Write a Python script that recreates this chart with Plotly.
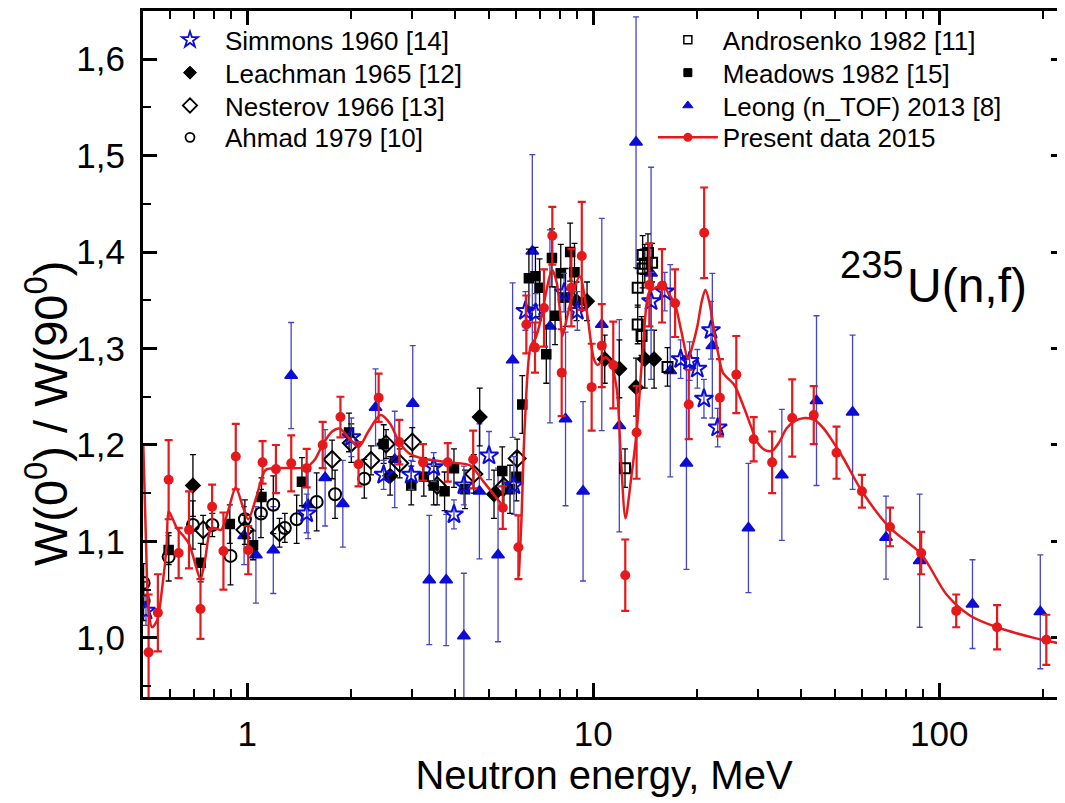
import numpy as np
import plotly.graph_objects as go

# ---------------- data ----------------
simmons_E = [0.51, 1.486, 2.0, 2.48, 2.98, 3.46, 3.96, 4.23, 5.0, 5.9, 6.37, 6.82, 8.24, 9.0,
             14.7, 16.1, 17.9, 19.0, 20.0, 20.9, 21.9, 22.9]
simmons_W = [1.028, 1.129, 1.208, 1.169, 1.169, 1.177, 1.128, 1.158, 1.189, 1.158, 1.339, 1.337,
             1.358, 1.339, 1.349, 1.359, 1.289, 1.287, 1.279, 1.248, 1.319, 1.218]
simmons_err = [0.015, 0.02, 0.02, 0.015, 0.015, 0.015, 0.015, 0.02, 0.025, 0.03, 0.02, 0.02,
               0.02, 0.02, 0.03, 0.02, 0.02, 0.02, 0.02, 0.02, 0.03, 0.02]

leachman_E = [0.697, 2.59, 4.70, 5.17, 8.95, 9.6, 10.8, 11.9, 13.3, 14.1, 15.0]
leachman_W = [1.158, 1.168, 1.229, 1.149, 1.349, 1.349, 1.289, 1.279, 1.260, 1.289, 1.289]
leachman_err = [0.032, 0.02, 0.03, 0.025, 0.02, 0.02, 0.025, 0.03, 0.03, 0.03, 0.03]

nesterov_E = [0.746, 0.985, 1.24, 1.76, 2.0, 2.28, 2.52, 2.76, 3.0, 3.54, 4.52, 5.52, 6.03]
nesterov_W = [1.112, 1.112, 1.109, 1.185, 1.202, 1.184, 1.201, 1.181, 1.203, 1.158, 1.170, 1.157, 1.186]
nesterov_err = [0.015, 0.015, 0.015, 0.02, 0.02, 0.015, 0.015, 0.015, 0.015, 0.02, 0.02, 0.02, 0.02]

ahmad_E = [0.502, 0.502, 0.593, 0.697, 0.793, 0.895, 0.985, 1.096, 1.19, 1.285, 1.39, 1.588, 1.795, 2.18]
ahmad_W = [1.057, 1.038, 1.084, 1.117, 1.117, 1.085, 1.123, 1.129, 1.138, 1.114, 1.123, 1.141, 1.149, 1.165]
ahmad_err = [0.02, 0.02, 0.025, 0.025, 0.012, 0.03, 0.02, 0.025, 0.03, 0.015, 0.025, 0.03, 0.025, 0.02]

andros_E = [12.36, 13.45, 13.45, 13.8, 13.9, 13.9, 14.1, 14.4, 14.8, 16.4]
andros_W = [1.176, 1.363, 1.325, 1.313, 1.397, 1.383, 1.388, 1.399, 1.389, 1.281]
andros_err = [0.02, 0.02, 0.02, 0.02, 0.02, 0.02, 0.02, 0.02, 0.02, 0.02]

meadows_E = [0.593, 0.734, 0.891, 1.04, 1.10, 1.44, 1.97, 2.48, 2.98, 3.24, 3.46, 3.72, 3.96, 4.26,
             5.46, 5.75, 6.0, 6.24, 6.52, 6.81, 7.0, 7.32, 7.6, 7.76, 8.06, 8.32, 8.58, 8.83]
meadows_W = [1.091, 1.078, 1.118, 1.096, 1.146, 1.162, 1.213, 1.201, 1.158, 1.167, 1.158, 1.152,
             1.176, 1.154, 1.173, 1.154, 1.167, 1.242, 1.373, 1.375, 1.363, 1.294, 1.394, 1.334,
             1.378, 1.353, 1.400, 1.379]
meadows_err = [0.015, 0.02, 0.02, 0.015, 0.02, 0.025, 0.02, 0.02, 0.02, 0.02, 0.02, 0.02, 0.02,
               0.02, 0.025, 0.025, 0.025, 0.03, 0.03, 0.03, 0.03, 0.03, 0.03, 0.03, 0.03, 0.03,
               0.03, 0.03]

leong_E = [0.98, 1.06, 1.19, 1.34, 1.50, 1.68, 1.89, 2.35, 2.67, 3.01, 3.36, 3.76, 4.23, 4.69, 5.31,
           5.85, 6.67, 7.50, 8.32, 9.35, 10.59, 11.9, 13.3, 14.7, 16.7, 18.6, 22.1, 28.1, 35.1,
           44.2, 56.2, 70.2, 87.8, 124.8, 196]
leong_W = [1.106, 1.086, 1.091, 1.272, 1.138, 1.166, 1.139, 1.239, 1.185, 1.243, 1.060, 1.060,
           1.002, 1.152, 1.086, 1.288, 1.401, 1.323, 1.227, 1.152, 1.325, 1.220, 1.514, 1.378,
           1.277, 1.181, 1.303, 1.114, 1.169, 1.246, 1.234, 1.104, 1.080, 1.035, 1.027]
leong_err = [0.03, 0.05, 0.045, 0.055, 0.035, 0.05, 0.045, 0.04, 0.05, 0.06, 0.067, 0.068, 0.065,
             0.07, 0.09, 0.08, 0.1, 0.1, 0.09, 0.093, 0.11, 0.11, 0.13, 0.11, 0.11, 0.11, 0.075,
             0.067, 0.068, 0.088, 0.08, 0.043, 0.069, 0.046, 0.059]

present_E = [0.519, 0.552, 0.593, 0.634, 0.679, 0.733, 0.792, 0.854, 0.927, 1.007, 1.108, 1.211,
             1.341, 1.486, 1.653, 1.860, 2.098, 2.399, 2.752, 3.223, 3.80, 4.50, 5.48, 6.08, 6.41,
             6.79, 7.21, 7.62, 8.11, 8.65, 9.27, 9.90, 10.59, 11.43, 12.38, 13.35, 14.53, 15.81,
             17.25, 18.89, 20.93, 23.24, 25.92, 29.1, 32.9, 37.6, 43.4, 50.5, 59.8, 72.1, 88.7,
             112, 147, 204]
present_W = [0.985, 1.026, 1.164, 1.088, 1.112, 1.030, 1.136, 1.090, 1.188, 1.091, 1.182, 1.175,
             1.181, 1.176, 1.200, 1.229, 1.180, 1.249, 1.203, 1.182, 1.182, 1.185, 1.135, 1.094,
             1.325, 1.301, 1.342, 1.417, 1.275, 1.363, 1.396, 1.260, 1.303, 1.283, 1.065, 1.213,
             1.366, 1.365, 1.347, 1.242, 1.420, 1.249, 1.273, 1.206, 1.182, 1.228, 1.231, 1.192,
             1.152, 1.115, 1.088, 1.028, 1.011, 0.998]
present_err = [0.06, 0.04, 0.041, 0.026, 0.04, 0.031, 0.023, 0.04, 0.034, 0.025, 0.022, 0.025,
               0.029, 0.02, 0.024, 0.021, 0.023, 0.025, 0.023, 0.019, 0.02, 0.03, 0.022, 0.033,
               0.03, 0.026, 0.04, 0.03, 0.045, 0.04, 0.056, 0.045, 0.043, 0.045, 0.037, 0.048,
               0.043, 0.038, 0.035, 0.036, 0.047, 0.04, 0.04, 0.023, 0.032, 0.04, 0.03, 0.027,
               0.017, 0.02, 0.022, 0.017, 0.023, 0.026]

# fitted curve (two segments separated by None)
fit_E = [0.501, 0.51, 0.519, 0.531, 0.549, 0.569, 0.585, 0.593, 0.61, 0.628, 0.65, 0.68, 0.71,
         0.733, 0.755, 0.78, 0.80, 0.84, 0.88, 0.927, 0.97, 1.007, 1.065, 1.13, 1.21, 1.48, 1.57,
         1.65, 1.76, 1.85, 1.97, 2.10, 2.24, 2.43, 2.59, 2.75, 2.95, 3.22, 3.82, 4.40, 4.82, 5.5,
         None,
         6.1, 6.2, 6.35, 6.6, 6.8, 7.1, 7.3, 7.6, 7.85, 8.0, 8.15, 8.4, 8.7, 9.15, 9.6, 10.05,
         10.3, 10.85, 11.2, 11.7, 12.0, 12.4, 12.85, 13.35, 13.9, 14.5, 15.1, 15.9, 16.6, 17.3,
         18.0, 18.8, 19.3, 20.0, 20.6, 21.1, 21.7, 22.4, 23.0, 23.7, 25.6, 27.4, 28.6, 29.8, 31.3,
         32.9, 34.5, 36.2, 38.3, 40.9, 43.6, 46.4, 49.4, 52.9, 59.8, 72.1, 88.7, 105, 123, 147,
         188, 232]
fit_W = [1.20, 1.10, 1.028, 1.011, 1.018, 1.054, 1.095, 1.131, 1.123, 1.113, 1.107, 1.097, 1.075,
         1.061, 1.08, 1.110, 1.114, 1.112, 1.131, 1.156, 1.137, 1.123, 1.147, 1.174, 1.176, 1.177,
         1.185, 1.200, 1.214, 1.217, 1.207, 1.198, 1.214, 1.231, 1.222, 1.203, 1.191, 1.186, 1.182,
         1.179, 1.162, 1.136,
         None,
         1.064, 1.12, 1.224, 1.303, 1.31, 1.334, 1.357, 1.382, 1.368, 1.343, 1.313, 1.332, 1.355,
         1.375, 1.337, 1.289, 1.283, 1.291, 1.286, 1.258, 1.193, 1.124, 1.163, 1.213, 1.296, 1.358,
         1.363, 1.365, 1.356, 1.344, 1.317, 1.289, 1.301, 1.323, 1.349, 1.361, 1.347, 1.316, 1.294,
         1.275, 1.262, 1.237, 1.219, 1.203, 1.195, 1.194, 1.203, 1.217, 1.225, 1.228, 1.226, 1.217,
         1.203, 1.186, 1.152, 1.114, 1.087, 1.045, 1.023, 1.011, 1.000, 0.993]

y_ticks = [1.0, 1.1, 1.2, 1.3, 1.4, 1.5, 1.6]
y_ticktext = ["1,0", "1,1", "1,2", "1,3", "1,4", "1,5", "1,6"]
x_ticks = [1, 10, 100]
x_ticktext = ["1", "10", "100"]

RED = "#e5191c"
BLUE = "#0c0cd8"
BLUE_ERR = "#4545c8"
FONT = "Liberation Sans, Arial, sans-serif"

fig = go.Figure()


def add_series(E, W, err, symbol, color, size, ecolor, ethick, ewidth, line_width=1.5):
    fig.add_trace(go.Scatter(
        x=E, y=W, mode="markers", showlegend=False,
        marker=dict(symbol=symbol, color=color, size=size,
                    line=dict(color=color, width=line_width)),
        error_y=dict(type="data", array=err, color=ecolor, thickness=ethick, width=ewidth),
    ))


add_series(leong_E, leong_W, leong_err, "triangle-up", BLUE, 11, BLUE_ERR, 1.3, 3)
add_series(ahmad_E, ahmad_W, ahmad_err, "circle-open", "black", 12, "black", 1.3, 3, 2)
add_series(meadows_E, meadows_W, meadows_err, "square", "black", 9, "black", 1.3, 3)
add_series(andros_E, andros_W, andros_err, "square-open", "black", 10, "black", 1.3, 3, 2)
add_series(nesterov_E, nesterov_W, nesterov_err, "diamond-open", "black", 13, "black", 1.3, 3, 2)
add_series(leachman_E, leachman_W, leachman_err, "diamond", "black", 11, "black", 1.3, 3)
add_series(simmons_E, simmons_W, simmons_err, "star-open", BLUE, 14, BLUE_ERR, 1.3, 3, 2)

# Present data
fig.add_trace(go.Scatter(
    x=fit_E, y=fit_W, mode="lines", showlegend=False, connectgaps=False,
    line=dict(color=RED, width=2.5, shape="spline", smoothing=0.8),
))
fig.add_trace(go.Scatter(
    x=present_E, y=present_W, mode="markers", showlegend=False,
    marker=dict(symbol="circle", color=RED, size=10),
    error_y=dict(type="data", array=present_err, color=RED, thickness=2.2, width=4),
))

# legend entries: (name, symbol, colour, size, outline width, column, row)
legend_items = [
    ("Simmons 1960 [14]", "star-open", BLUE, 12, 1.8, 0, 0),
    ("Leachman 1965 [12]", "diamond", "black", 10, 1, 0, 1),
    ("Nesterov 1966 [13]", "diamond-open", "black", 11, 1.8, 0, 2),
    ("Ahmad 1979 [10]", "circle-open", "black", 9, 1.8, 0, 3),
    ("Androsenko 1982 [11]", "square-open", "black", 8, 1.5, 1, 0),
    ("Meadows 1982 [15]", "square", "black", 8, 1, 1, 1),
    ("Leong (n_TOF) 2013 [8]", "triangle-up", BLUE, 9, 1, 1, 2),
]

PLOT_BOTTOM = 697.0   # page px
PLOT_H = 689.0
row_centers = [37, 70, 103, 135]
col_x = [0.013, 0.553]

legend_layout = {}
idx = 0
for nm, sym, col, sz, lw, c, r in legend_items:
    idx += 1
    key = "legend" if idx == 1 else f"legend{idx}"
    fig.add_trace(go.Scatter(x=[None], y=[None], mode="markers", name=nm, legend=key,
                             marker=dict(symbol=sym, color=col, size=sz,
                                         line=dict(color=col, width=lw))))
    legend_layout[key] = dict(x=col_x[c], y=(PLOT_BOTTOM - row_centers[r]) / PLOT_H,
                              xanchor="left", yanchor="middle", bgcolor="rgba(0,0,0,0)",
                              font=dict(family=FONT, size=26), itemwidth=60)
idx += 1
key = f"legend{idx}"
fig.add_trace(go.Scatter(x=[None], y=[None], mode="lines+markers", name="Present data 2015",
                         legend=key,
                         marker=dict(symbol="circle", color=RED, size=9),
                         line=dict(color=RED, width=2.5)))
legend_layout[key] = dict(x=col_x[1], y=(PLOT_BOTTOM - row_centers[3]) / PLOT_H,
                          xanchor="left", yanchor="middle", bgcolor="rgba(0,0,0,0)",
                          font=dict(family=FONT, size=26), itemwidth=60)

axis_common = dict(
    showline=True, linecolor="black", linewidth=3, mirror="ticks",
    ticks="inside", ticklen=14, tickwidth=2.5, tickcolor="black",
    showgrid=False, zeroline=False,
    tickfont=dict(family=FONT, size=35, color="black"),
)

# page body has an 8px default margin: compensate so the plot lands where the reference has it
fig.update_layout(
    width=1065, height=803,
    margin=dict(l=135, r=8, t=0, b=114),
    paper_bgcolor="white", plot_bgcolor="white",
    font=dict(family=FONT, color="black"),
    xaxis=dict(
        type="log", range=[np.log10(0.5), np.log10(231)],
        tickvals=x_ticks, ticktext=x_ticktext,
        minor=dict(ticks="inside", ticklen=8, tickwidth=2, tickcolor="black",
                   tickvals=[v * m for v in [0.1, 1, 10, 100] for m in range(2, 10)]),
        ticklabelstandoff=4,
        title=dict(text="Neutron energy, MeV", font=dict(family=FONT, size=40), standoff=4),
        **axis_common,
    ),
    yaxis=dict(
        range=[0.9387, 1.65],
        tickvals=y_ticks, ticktext=y_ticktext,
        minor=dict(ticks="inside", ticklen=8, tickwidth=2, tickcolor="black",
                   tickvals=[0.95, 1.05, 1.15, 1.25, 1.35, 1.45, 1.55, 1.65]),
        ticklabelstandoff=8,
        **axis_common,
    ),
    annotations=[
        dict(xref="paper", yref="paper", x=-0.104, y=0.414, xanchor="center", yanchor="middle",
             text="W(0<sup>0</sup>) / W(90<sup>0</sup>)", textangle=-90, showarrow=False,
             font=dict(family=FONT, size=47, color="black")),
        dict(xref="paper", yref="paper", x=0.8265, y=0.630, xanchor="right", yanchor="middle",
             text="235", showarrow=False, font=dict(family=FONT, size=38, color="black")),
        dict(xref="paper", yref="paper", x=0.8265, y=0.600, xanchor="left", yanchor="middle",
             text="U(n,f)", showarrow=False, font=dict(family=FONT, size=48, color="black")),
    ],
    **legend_layout,
)

fig.write_html("out.html")
